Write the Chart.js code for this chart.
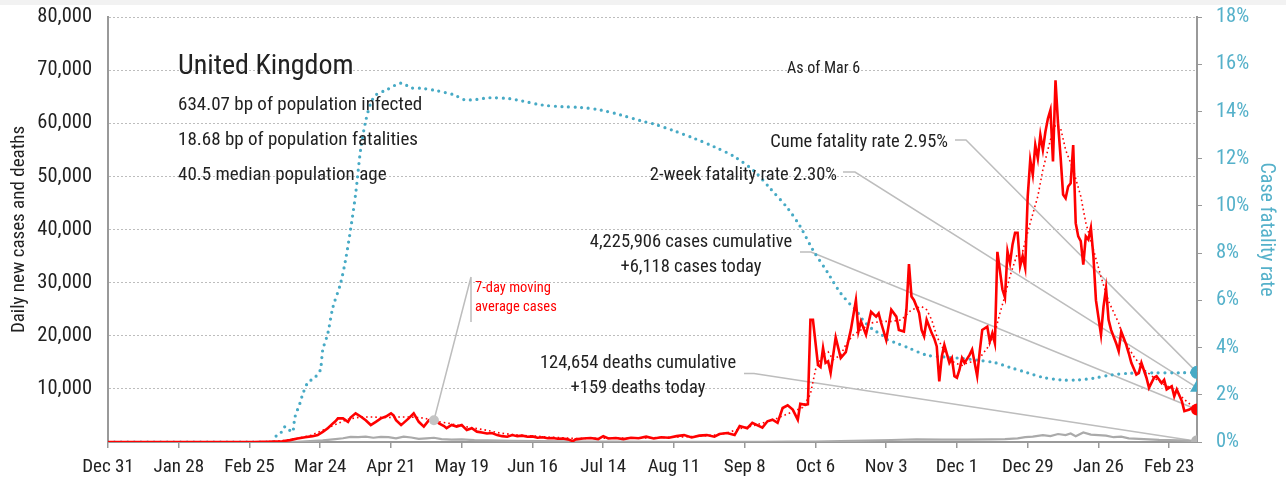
<!DOCTYPE html>
<html>
<head>
<meta charset="utf-8">
<script src="https://cdn.jsdelivr.net/npm/chart.js@4.4.1/dist/chart.umd.min.js"></script>
<style>
  html, body { margin: 0; padding: 0; background: #fff; }
  #wrap { position: relative; width: 1286px; height: 482px;
          background: linear-gradient(#f2f2f2 0, #f2f2f2 5px, #fff 5px); }
</style>
</head>
<body>
<div id="wrap"><canvas id="chart"></canvas></div>
<script>
// days counted from Dec 31, 2019
const tickDays   = [0, 28, 56, 84, 112, 140, 168, 196, 224, 252, 280, 308, 336, 364, 392, 420];
const tickLabels = ['Dec 31','Jan 28','Feb 25','Mar 24','Apr 21','May 19','Jun 16','Jul 14','Aug 11','Sep 8','Oct 6','Nov 3','Dec 1','Dec 29','Jan 26','Feb 23'];

// daily new cases
const caseDays = [0,30,58,61,63,66,69,72,75,78,81,83,85,87,89,90,91,93,95,96,98,100,102,104,106,108,110,112,113,114,116,117,119,121,123,125,127,129,131,133,134,136,138,140,142,144,146,148,150,152,154,156,158,160,162,164,166,168,170,172,174,176,178,180,182,184,185,188,191,194,196,198,201,204,207,210,213,216,219,222,225,228,231,234,237,240,242,245,248,250,253,255,259,261,263,265,267,269,271,273,274,276,277,278,279,281,282,283,284,285,286,288,290,292,294,296,297,298,300,302,304,305,306,308,310,312,313,315,316,317,318,319,321,322,323,324,326,327,328,329,330,331,333,334,335,336,337,338,339,341,342,343,344,345,346,348,349,350,351,352,354,355,356,357,358,359,360,361,362,363,364,365,366,367,368,369,370,371,372,373,374,375,376,377,378,379,380,381,382,383,384,385,386,387,388,389,390,391,393,394,395,396,397,399,400,401,403,404,405,407,408,409,411,412,414,415,417,418,419,421,422,423,425,426,428,429,431];
const caseValues = [0,0,0,30,40,80,150,350,650,900,1100,1300,1900,2600,3500,3900,4450,4450,3800,4600,5400,4800,4100,3200,3800,4450,4800,5400,5000,4100,3200,3600,4450,5400,3800,2900,4100,4300,3500,3000,2600,3200,2900,3200,2250,2600,1950,1800,1600,1700,1300,1100,1000,1300,1100,1200,1000,1050,800,900,700,750,600,650,500,150,500,650,750,550,1100,650,750,550,800,700,1000,650,900,800,1100,1300,850,1200,1300,1000,1500,1700,1300,3000,2600,3600,2700,3900,4200,3600,6400,6900,6100,4200,7200,7000,7100,23000,23000,14500,14100,17700,14900,15200,13000,19700,15800,16900,21100,26700,20800,22700,20200,24500,23600,24200,22400,19200,24900,23600,21100,20800,24900,33500,27400,26700,24300,21100,19900,23000,20500,19500,18000,11400,16100,18300,14900,15800,12400,12100,13600,15800,14900,16400,17400,14900,12400,17000,21100,21700,18900,20500,18600,35800,28700,27200,35900,33700,37200,39400,39400,33100,35000,32800,46200,53100,50300,55900,53400,57800,55000,58400,60900,62500,52800,68100,60000,53700,46600,45900,48100,48700,55900,41200,38700,37800,33400,38700,38100,40300,35000,26700,20200,25500,28900,23000,21100,18600,17100,20800,18300,16700,14900,12700,13000,14900,12100,10200,12100,12400,11100,11700,9900,10500,8600,9900,7700,5800,6100,6400,6118];

// 7-day moving average of cases
const avgDays   = [0,60,65,70,75,80,85,90,95,100,105,110,115,120,125,130,135,140,145,150,155,160,165,170,175,180,185,190,200,210,220,230,240,245,250,255,260,265,270,275,278,280,283,285,287,290,292,295,298,302,306,310,314,318,322,324,326,328,330,332,335,338,340,343,345,348,351,353,355,357,360,362,365,368,370,373,375,377,379,382,385,387,390,393,396,400,402,406,410,414,418,422,426,430,431];
const avgValues = [0,0,100,300,700,1200,2200,3300,4300,4700,4700,4600,4700,4700,4500,3900,3500,3000,2600,2200,1700,1400,1200,1100,900,800,650,700,750,750,850,1000,1300,1700,2500,3000,3700,4500,5500,6500,9000,13600,16500,17000,15500,16400,18300,20200,21100,22400,22700,22700,23000,24900,25500,24900,23000,19900,18000,16400,14900,14400,14900,15200,15800,17700,20500,24250,27500,31250,35600,35900,41250,46250,51250,56900,59700,59100,55000,51250,46250,41250,36200,31100,26500,22400,19250,16100,13600,12100,10800,9900,8000,6400,6100];

// daily deaths
const deathDays   = [0,65,70,75,80,85,90,93,96,99,102,105,108,111,114,117,120,123,126,129,132,136,140,145,150,155,160,170,180,190,200,220,240,260,270,280,290,300,310,320,330,340,350,355,360,363,366,370,373,376,379,381,383,386,389,392,395,398,401,404,408,412,416,420,424,428,431];
const deathValues = [0,0,20,50,150,300,550,700,950,900,1000,800,950,900,700,1000,850,600,700,800,550,450,500,350,300,250,200,150,100,80,60,40,20,50,70,80,150,250,380,500,450,450,500,550,700,900,1000,1300,1100,1500,1300,1600,1100,1800,1400,1300,1200,900,1000,700,600,500,400,350,300,200,159];

// case fatality rate, %
const cfrDays   = [0,65,67,69,70,71,73,74,76,77,79,82,84,85,87,89,92,94,96,98,100,102,104,106,110,116,120,124,130,137,141,146,151,159,164,172,180,187,195,203,211,216,224,232,240,248,256,262,269,274,279,285,287,290,294,296,299,303,306,308,312,317,324,331,338,344,351,357,364,370,377,384,390,397,404,413,424,431];
const cfrValues = [0,0,0.34,0.44,0.65,0.59,0.42,1.06,1.65,2.0,2.5,2.75,3.05,3.9,4.6,5.7,6.7,7.7,9.0,10.5,12.4,13.6,14.35,14.7,14.9,15.2,15.0,14.98,14.88,14.7,14.5,14.51,14.58,14.54,14.44,14.27,14.2,14.17,14.06,13.85,13.6,13.47,13.18,12.86,12.5,12.08,11.45,10.75,9.9,9.12,8.13,7.15,6.79,6.3,5.8,5.59,5.14,4.74,4.57,4.36,4.19,3.98,3.68,3.6,3.54,3.47,3.36,3.16,2.93,2.74,2.63,2.63,2.7,2.84,2.91,2.93,2.93,2.95];

// latest figures
const cumeCfr = 2.95;
const twoWeekCfr = 2.30;
const casesToday = 6118;
const deathsToday = 159;
const avgNote = { day: 129, value: 4100 };

const lastDay = caseDays[caseDays.length - 1];
const FAMILY = '"Roboto Condensed", "DejaVu Sans Condensed", sans-serif';
const RED = '#ff0000', BLUE = '#47aac5', BLUE_TXT = '#55b1ca', GREY = '#aaaaaa', LEAD = '#bdbdbd', INK = '#222';

const pts = (xs, ys) => xs.map((d, i) => ({ x: d, y: ys[i] }));
const font = (s) => s + 'px ' + FAMILY;

const notes = {
  id: 'notes',
  beforeDatasetsDraw(chart) {
    const { ctx, scales: { x, y, y2 } } = chart;
    const ex = x.getPixelForValue(lastDay);
    const leaders = [
      { sx: 955, sy: 140, bx: 966, ey: y2.getPixelForValue(cumeCfr) },
      { sx: 843, sy: 172, bx: 855, ey: y2.getPixelForValue(twoWeekCfr) },
      { sx: 800, sy: 252, bx: 811, ey: y.getPixelForValue(casesToday) },
      { sx: 744, sy: 373.5, bx: 754, ey: y.getPixelForValue(deathsToday) }
    ];
    ctx.save();
    ctx.strokeStyle = LEAD; ctx.lineWidth = 1.5;
    leaders.forEach(l => {
      ctx.beginPath();
      ctx.moveTo(l.sx, l.sy); ctx.lineTo(l.bx, l.sy); ctx.lineTo(ex, l.ey);
      ctx.stroke();
    });
    // moving-average note
    ctx.beginPath();
    ctx.moveTo(471, 277); ctx.lineTo(471, 322);
    ctx.moveTo(471, 277);
    ctx.lineTo(x.getPixelForValue(avgNote.day), y.getPixelForValue(avgNote.value));
    ctx.stroke();
    ctx.restore();
  },
  afterDatasetsDraw(chart) {
    const { ctx } = chart;
    ctx.save();
    ctx.textBaseline = 'alphabetic';
    ctx.fillStyle = INK;
    ctx.textAlign = 'left';
    ctx.font = font(28); ctx.fillText('United Kingdom', 178, 74);
    ctx.font = font(19);
    ctx.fillText('634.07 bp of population infected', 178, 110);
    ctx.fillText('18.68 bp of population fatalities', 178, 145);
    ctx.fillText('40.5 median population age', 178, 180);
    ctx.font = font(16); ctx.fillText('As of Mar 6', 787, 73);
    ctx.font = font(18.5); ctx.textAlign = 'right';
    ctx.fillText('Cume fatality rate 2.95%', 948, 147);
    ctx.fillText('2-week fatality rate 2.30%', 837, 180);
    ctx.textAlign = 'center';
    ctx.fillText('4,225,906 cases cumulative', 691, 247);
    ctx.fillText('+6,118 cases today', 691, 272);
    ctx.fillText('124,654 deaths cumulative', 638, 368);
    ctx.fillText('+159 deaths today', 638, 393);
    ctx.textAlign = 'left'; ctx.fillStyle = RED; ctx.font = font(14.5);
    ctx.fillText('7-day moving', 475, 292);
    ctx.fillText('average cases', 475, 311);
    ctx.restore();
  }
};

const marker = (label, yv, axis, style, r, color, order) => ({
  label, data: [{ x: lastDay, y: yv }], yAxisID: axis, showLine: false,
  pointStyle: style, pointRadius: r, backgroundColor: color, borderColor: color, borderWidth: 0, order
});

// tick padding would otherwise push the plot area down
const noVPad = s => { s.paddingTop = 0; s.paddingBottom = 0; };

new Chart(document.getElementById('chart'), {
  type: 'line',
  data: {
    datasets: [
      marker('Cume fatality rate', cumeCfr, 'y2', 'circle', 6.5, BLUE, 0),
      marker('2-week fatality rate', twoWeekCfr, 'y2', 'triangle', 8, BLUE, 0),
      marker('Cases today', casesToday, 'y', 'circle', 6, RED, 0),
      marker('Deaths today', deathsToday, 'y', 'circle', 6, '#b5b5b5', 0),
      { label: 'note', data: [{ x: avgNote.day, y: avgNote.value }], yAxisID: 'y', showLine: false,
        pointRadius: 5, backgroundColor: '#c4c4c4', borderWidth: 0, order: 0 },
      { label: 'Daily new cases', data: pts(caseDays, caseValues), yAxisID: 'y',
        borderColor: RED, borderWidth: 2.6, pointRadius: 0, tension: 0, order: 1 },
      { label: '7-day moving average cases', data: pts(avgDays, avgValues), yAxisID: 'y',
        borderColor: RED, borderWidth: 1.6, borderDash: [1.6, 3], pointRadius: 0, tension: 0, order: 2 },
      { label: 'Daily deaths', data: pts(deathDays, deathValues), yAxisID: 'y',
        borderColor: GREY, borderWidth: 2.2, pointRadius: 0, tension: 0, order: 3 },
      { label: 'Case fatality rate', data: pts(cfrDays, cfrValues), yAxisID: 'y2',
        borderColor: BLUE, borderWidth: 3.2, borderDash: [0, 6.6], borderCapStyle: 'round',
        pointRadius: 0, tension: 0.3, order: 4 }
    ]
  },
  options: {
    responsive: true,
    maintainAspectRatio: false,
    animation: false,
    layout: { padding: { top: 17, left: 0, right: 0, bottom: 0 } },
    plugins: { legend: { display: false }, tooltip: { enabled: false } },
    scales: {
      x: {
        type: 'linear', min: 0, max: lastDay,
        afterBuildTicks: s => { s.ticks = tickDays.map(v => ({ value: v })); },
        afterFit: s => { s.height = 40; },
        grid: { drawOnChartArea: false, drawTicks: true, tickLength: 6, color: '#999', lineWidth: 1.5 },
        border: { color: '#999', width: 2 },
        ticks: { font: { family: FAMILY, size: 19 }, color: INK, padding: 8, maxRotation: 0,
                 callback: v => tickLabels[tickDays.indexOf(v)] }
      },
      y: {
        position: 'left', min: 0, max: 80000,
        afterFit: s => { s.width = 108; noVPad(s); },
        grid: { color: '#bdbdbd', lineWidth: 1, drawTicks: false },
        border: { color: '#999', width: 2, dash: [2, 2] },
        ticks: { stepSize: 10000, padding: 16, font: { family: FAMILY, size: 20.5 }, color: INK,
                 callback: v => v === 0 ? '' : v.toLocaleString('en-US') },
        title: { display: true, text: 'Daily new cases and deaths', color: INK,
                 font: { family: FAMILY, size: 19 }, padding: { top: 8, bottom: 0 } }
      },
      y2: {
        position: 'right', min: 0, max: 18,
        afterFit: s => { s.width = 89; noVPad(s); },
        grid: { drawOnChartArea: false, drawTicks: true, tickLength: 5, color: '#999' },
        border: { color: '#999', width: 2 },
        ticks: { stepSize: 2, padding: 14, font: { family: FAMILY, size: 20.5 }, color: BLUE_TXT,
                 callback: v => v + '%' },
        title: { display: true, text: 'Case fatality rate', color: BLUE_TXT,
                 font: { family: FAMILY, size: 20 }, padding: { top: 8, bottom: 0 } }
      }
    }
  },
  plugins: [notes]
});
</script>
</body>
</html>
